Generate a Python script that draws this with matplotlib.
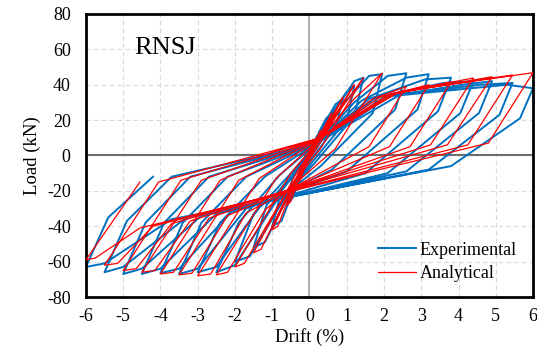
import matplotlib
matplotlib.use("Agg")
import matplotlib.pyplot as plt

plt.rcParams['font.family'] = ['Liberation Serif', 'DejaVu Serif']
plt.rcParams['axes.unicode_minus'] = False

# peak drifts of the cycles (%)
drift_pos = [0.3, 0.6, 0.9, 1.2, 1.45, 1.95, 2.6, 3.2, 3.8, 4.4, 4.9, 5.45, 6.0]
drift_neg = [-0.3, -0.6, -1.0, -1.5, -2.0, -2.5, -3.0, -3.5, -4.0, -4.5, -5.0, -5.5, -6.0]

# analytical model, key points of each cycle (drift %, load kN)
ana_pinch_pos = (0.3, 10)
ana_knee_pos_x = [0.3, 0.45, 0.6, 0.75, 0.9, 1.2, 1.7, 1.9, 2.1, 2.2, 2.3, 2.4, 2.4]
ana_knee_pos_y = [12, 17, 21, 25, 28, 32, 32, 33, 34, 35, 35, 36, 36]
ana_pos_load = [14, 24, 33, 40, 44, 46.6, 39, 40, 41.5, 43.8, 44.5, 45.5, 46.8]
ana_unl_pos_x = [0.0, 0.05, 0.1, 0.2, 0.3, 0.7, 1.6, 2.15, 2.7, 3.25, 3.7, 4.25, 4.8]
ana_unl_pos_y = [3, 3, 3, 4, 4, 4, 5, 5, 5, 6, 6, 6, 7]
ana_pinch_neg_x = [-0.1, -0.2, -0.3, -0.4, -0.6, -1.2, -1.7, -2.2, -2.7, -3.2, -3.7, -4.2, -4.55]
ana_pinch_neg_y = [-5, -8, -10, -14, -20, -31, -32.5, -34, -35.5, -37, -38.5, -40, -41]
ana_knee_neg_x = [-0.25, -0.5, -0.85, -1.3, -1.75, -2.2, -2.65, -3.15, -3.65, -4.15, -4.65, -5.15, -5.75]
ana_knee_neg_y = [-14, -26, -40, -53, -61, -66, -67, -66.5, -66, -65, -64, -61, -58]
ana_neg_load = [-15, -28, -42, -55, -63, -67.5, -68, -67.5, -67, -66, -65, -62, -59]
ana_unl_neg_x = [-0.05, -0.1, -0.2, -0.3, -0.5, -0.9, -1.35, -1.9, -2.4, -2.9, -3.45, -4.05, -4.55]
ana_unl_neg_y = [-3, -4, -6, -8, -10, -13, -13, -14, -14, -14, -14, -15, -15]

# experimental loops, key points of each cycle
exp_pinch_pos = (0.2, 7)
exp_mid_pos_x = [0.1, 0.25, 0.4, 0.55, 0.7, 0.9, 1.2, 1.4, 1.6, 1.8, 2.0, 2.2, 2.4]
exp_mid_pos_y = [7, 13, 18, 22, 26, 29, 30, 31, 32, 33, 33, 34, 34]
exp_plat_pos_x = [0.2, 0.45, 0.7, 1.0, 1.2, 1.6, 2.1, 2.6, 3.1, 3.6, 4.1, 4.6, 5.3]
exp_plat_pos_y = [11, 21, 29, 36, 42, 45, 45, 44, 43, 41, 40, 40, 40]
exp_pos_load = [13, 24, 32, 39, 44, 46, 46.5, 46, 44, 42, 42, 41, 38]
exp_unl1_pos_x = [0.2, 0.45, 0.7, 1.0, 1.2, 1.7, 2.3, 2.9, 3.45, 4.05, 4.55, 5.1, 5.65]
exp_unl1_pos_y = [6, 12, 16, 20, 22, 24, 26, 26, 25, 24, 24, 23, 21]
exp_unl2_pos_x = [0.0, 0.0, 0.05, 0.1, 0.15, 0.3, 0.6, 1.0, 1.5, 2.1, 2.6, 3.2, 3.8]
exp_unl2_pos_y = [0, -1, -2, -3, -4, -6, -8, -9, -10, -10, -9, -8, -6]
exp_pinch_neg_x = [-0.1, -0.2, -0.3, -0.4, -0.55, -0.9, -1.3, -1.7, -2.1, -2.5, -2.9, -3.3, -3.7]
exp_pinch_neg_y = [-5, -9, -12, -16, -20, -26, -28, -30, -32, -33, -34, -35, -36]
exp_plat_neg_x = [-0.2, -0.45, -0.75, -1.2, -1.6, -2.0, -2.5, -3.0, -3.5, -4.0, -4.5, -5.0, -5.5]
exp_plat_neg_y = [-12, -24, -37, -49, -57, -62, -63, -64, -64, -64, -64, -63, -61]
exp_neg_load = [-14, -27, -40, -52, -60, -66, -66, -67, -66.5, -67, -67, -66, -63]
exp_unl1_neg_x = [-0.2, -0.45, -0.75, -1.15, -1.5, -1.9, -2.4, -2.9, -3.4, -3.9, -4.4, -4.9, -5.4]
exp_unl1_neg_y = [-6, -12, -20, -28, -33, -38, -38, -38, -38, -38, -38, -37, -35]
exp_unl2_neg_x = [-0.05, -0.1, -0.2, -0.3, -0.45, -0.8, -1.2, -1.7, -2.2, -2.7, -3.2, -3.7, -4.2]
exp_unl2_neg_y = [-2, -3, -5, -7, -9, -11, -12, -12, -12, -12, -12, -12, -12]

x_ticks = [-6, -5, -4, -3, -2, -1, 0, 1, 2, 3, 4, 5, 6]
y_ticks = [-80, -60, -40, -20, 0, 20, 40, 60, 80]


# chain the key points of all cycles into one continuous path
ana_x, ana_y = [0.0], [0.0]
for k in range(len(drift_pos)):
    ana_x += [ana_pinch_pos[0], ana_knee_pos_x[k], drift_pos[k], ana_unl_pos_x[k],
              ana_pinch_neg_x[k], ana_knee_neg_x[k], drift_neg[k], ana_unl_neg_x[k]]
    ana_y += [ana_pinch_pos[1], ana_knee_pos_y[k], ana_pos_load[k], ana_unl_pos_y[k],
              ana_pinch_neg_y[k], ana_knee_neg_y[k], ana_neg_load[k], ana_unl_neg_y[k]]

exp_x, exp_y = [0.0], [0.0]
for k in range(len(drift_pos)):
    exp_x += [exp_pinch_pos[0], exp_mid_pos_x[k], exp_plat_pos_x[k], drift_pos[k],
              exp_unl1_pos_x[k], exp_unl2_pos_x[k], exp_pinch_neg_x[k], exp_plat_neg_x[k],
              drift_neg[k], exp_unl1_neg_x[k], exp_unl2_neg_x[k]]
    exp_y += [exp_pinch_pos[1], exp_mid_pos_y[k], exp_plat_pos_y[k], exp_pos_load[k],
              exp_unl1_pos_y[k], exp_unl2_pos_y[k], exp_pinch_neg_y[k], exp_plat_neg_y[k],
              exp_neg_load[k], exp_unl1_neg_y[k], exp_unl2_neg_y[k]]

fig = plt.figure(figsize=(5.37, 3.54), dpi=100)
ax = fig.add_axes([0.160, 0.161, 0.8326, 0.7995])

# grid and zero lines
ax.grid(True, color='#d9d9d9', linestyle=(0, (4, 3)), linewidth=0.8)
ax.set_axisbelow(True)
ax.axvline(0, color='#b0b0b0', linewidth=1.5, zorder=1)
ax.axhline(0, color='#6e6e6e', linewidth=1.5, zorder=1)

ax.plot(exp_x, exp_y, color='#0070c0', linewidth=1.4, label='Experimental', zorder=2)
ax.plot(ana_x, ana_y, color='#ff0000', linewidth=0.9, label='Analytical', zorder=3)

ax.set_xlim(-6, 6)
ax.set_ylim(-80, 80)
ax.set_xticks(x_ticks)
ax.set_yticks(y_ticks)
ax.tick_params(length=0, labelsize=13)
ax.tick_params(axis='y', pad=11)
ax.tick_params(axis='x', pad=8)
for s in ax.spines.values():
    s.set_linewidth(2)
    s.set_color('black')

ax.set_xlabel('Drift (%)', fontsize=13.5, labelpad=2)
ax.set_ylabel('Load (kN)', fontsize=13.5, labelpad=4)
ax.text(-4.7, 61, 'RNSJ', fontsize=19, va='center', ha='left')

ax.legend(loc='center left', bbox_to_anchor=(0.653, 0.124), frameon=False,
          fontsize=13, handlelength=2.1, handletextpad=0.2, labelspacing=0.35,
          borderpad=0, borderaxespad=0)

fig.savefig('out.png', dpi=100)
